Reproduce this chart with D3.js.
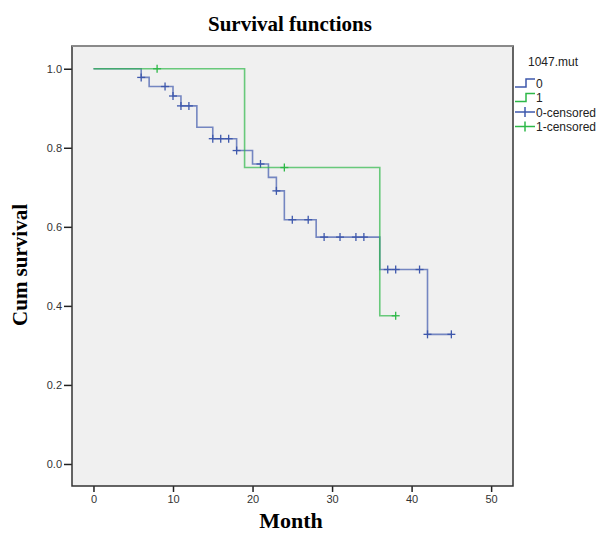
<!DOCTYPE html>
<html>
<head>
<meta charset="utf-8">
<script src="https://cdnjs.cloudflare.com/ajax/libs/d3/7.8.5/d3.min.js"></script>
<style>
  body { margin: 0; background: #fff; }
  svg { display: block; }
</style>
</head>
<body>
<script>
// group 0 (blue): step times and survival after each drop
const stepTimes0 = [0, 6, 7, 10, 11, 13, 15, 18, 20, 22, 23, 24, 28, 36, 42];
const stepSurv0  = [1, 0.978, 0.955, 0.931, 0.906, 0.852, 0.823, 0.793, 0.759, 0.725, 0.691, 0.618, 0.574, 0.492, 0.328];
const censored0  = [6, 9, 10, 11, 12, 15, 16, 17, 18, 21, 23, 25, 27, 29, 31, 33, 34, 37, 38, 41, 42, 45];
const lastTime0  = 45;

// group 1 (green)
const stepTimes1 = [0, 19, 36];
const stepSurv1  = [1, 0.75, 0.375];
const censored1  = [8, 24, 38];
const lastTime1  = 38;

const xTicks = [0, 10, 20, 30, 40, 50];
const yTicks = [0, 0.2, 0.4, 0.6, 0.8, 1.0];
const legendLabels = ["0", "1", "0-censored", "1-censored"];

const width = 600, height = 534;
const plotL = 72, plotR = 513, plotT = 46, plotB = 486;
const blue = "#3E58AC", green = "#2EB848";

const svg = d3.select("body").append("svg")
              .attr("width", width)
              .attr("height", height);

const x = d3.scaleLinear().domain([-2.7, 52.75]).range([plotL, plotR]);
const y = d3.scaleLinear().domain([-0.0557, 1.0575]).range([plotB, plotT]);

svg.append("rect")
   .attr("x", plotL).attr("y", plotT)
   .attr("width", plotR - plotL).attr("height", plotB - plotT)
   .attr("fill", "#F0F0F0");

// axes
const xAxis = svg.append("g")
                 .attr("transform", `translate(0,${plotB})`)
                 .call(d3.axisBottom(x).tickValues(xTicks).tickSize(6).tickPadding(3).tickFormat(d3.format("d")));
const yAxis = svg.append("g")
                 .attr("transform", `translate(${plotL},0)`)
                 .call(d3.axisLeft(y).tickValues(yTicks).tickSize(8).tickPadding(2).tickFormat(d3.format(".1f")));
[xAxis, yAxis].forEach(a => {
  a.select(".domain").remove();
  a.selectAll("line").attr("stroke", "#222").attr("stroke-width", 1.5);
  a.selectAll("text").attr("fill", "#333")
   .style("font-family", "'Liberation Sans', Arial, sans-serif").style("font-size", "11px");
});

// frame
svg.append("rect")
   .attr("x", plotL).attr("y", plotT)
   .attr("width", plotR - plotL).attr("height", plotB - plotT)
   .attr("fill", "none").attr("stroke", "#333").attr("stroke-width", 1.5);
svg.append("line")
   .attr("x1", plotL).attr("x2", plotR).attr("y1", plotT).attr("y2", plotT)
   .attr("stroke", "#8a8a8a").attr("stroke-width", 2);

function survAt(times, surv, t) {
  let s = 1;
  times.forEach((tt, i) => { if (tt <= t) s = surv[i]; });
  return s;
}

function drawGroup(times, surv, cens, lastT, color) {
  const pts = times.map((t, i) => [t, surv[i]]);
  pts.push([lastT, surv[surv.length - 1]]);
  const line = d3.line().x(d => x(d[0])).y(d => y(d[1])).curve(d3.curveStepAfter);
  svg.append("path")
     .attr("d", line(pts))
     .attr("fill", "none")
     .attr("stroke", color)
     .attr("stroke-opacity", 0.7)
     .attr("stroke-width", 1.6);
  svg.append("g").selectAll("g")
     .data(cens)
     .enter().append("g")
     .attr("transform", d => `translate(${x(d)},${y(survAt(times, surv, d))})`)
     .each(function() {
       const g = d3.select(this);
       g.append("line").attr("x1", 0).attr("x2", 0).attr("y1", -4).attr("y2", 4)
        .attr("stroke", color).attr("stroke-width", 1.3);
       g.append("line").attr("x1", -4).attr("x2", 4).attr("y1", 0).attr("y2", 0)
        .attr("stroke", color).attr("stroke-width", 1.3);
     });
}

drawGroup(stepTimes0, stepSurv0, censored0, lastTime0, blue);
drawGroup(stepTimes1, stepSurv1, censored1, lastTime1, green);

// titles
svg.append("text")
   .attr("x", 290).attr("y", 31)
   .attr("text-anchor", "middle")
   .style("font-family", "'Liberation Serif', 'Times New Roman', serif")
   .style("font-weight", "bold").style("font-size", "21px")
   .text("Survival functions");
svg.append("text")
   .attr("x", 291).attr("y", 528)
   .attr("text-anchor", "middle")
   .style("font-family", "'Liberation Serif', 'Times New Roman', serif")
   .style("font-weight", "bold").style("font-size", "22px")
   .text("Month");
svg.append("text")
   .attr("transform", "translate(27,265) rotate(-90)")
   .attr("text-anchor", "middle")
   .style("font-family", "'Liberation Serif', 'Times New Roman', serif")
   .style("font-weight", "bold").style("font-size", "21px")
   .text("Cum survival");

// legend
const legend = svg.append("g").attr("transform", "translate(515,0)");
legend.append("text")
      .attr("x", 13).attr("y", 66)
      .style("font-family", "'Liberation Sans', Arial, sans-serif").style("font-size", "12px")
      .attr("fill", "#222")
      .text("1047.mut");
const legendColors = [blue, green, blue, green];
const item = legend.selectAll("g.item")
                   .data(legendLabels)
                   .enter().append("g")
                   .attr("class", "item")
                   .attr("transform", (d, i) => `translate(0,${83 + i * 14.5})`);
item.each(function(d, i) {
  const g = d3.select(this);
  const c = legendColors[i];
  if (i < 2) {
    g.append("path").attr("d", "M0,4H11V-4H20")
     .attr("fill", "none").attr("stroke", c).attr("stroke-width", 1.5);
  } else {
    g.append("line").attr("x1", 0).attr("x2", 20).attr("y1", 0).attr("y2", 0)
     .attr("stroke", c).attr("stroke-width", 1.5);
    g.append("line").attr("x1", 10).attr("x2", 10).attr("y1", -5).attr("y2", 5)
     .attr("stroke", c).attr("stroke-width", 1.5);
  }
  g.append("text").attr("x", 21).attr("y", 4.5)
   .style("font-family", "'Liberation Sans', Arial, sans-serif").style("font-size", "12px")
   .attr("fill", "#222")
   .text(d);
});
</script>
</body>
</html>
